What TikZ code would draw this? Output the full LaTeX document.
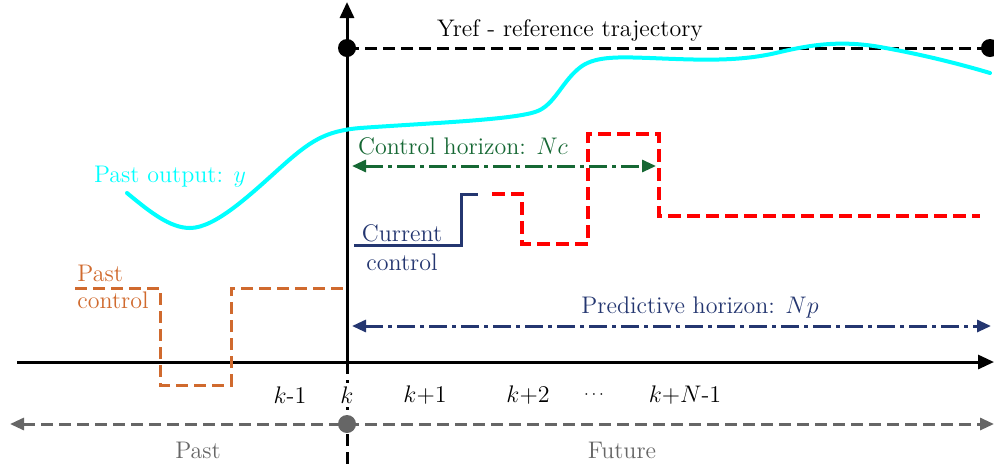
\documentclass[tikz,border=0pt]{standalone}
\usetikzlibrary{arrows.meta}
\definecolor{ctrlgreen}{RGB}{22,104,52}
\definecolor{navyc}{RGB}{36,54,112}
\definecolor{pastorange}{RGB}{208,106,46}
\definecolor{timegray}{RGB}{102,102,102}
\definecolor{outcyan}{RGB}{0,255,255}
\begin{document}
\begin{tikzpicture}[x=0.5pt,y=-0.5pt,
  axisline/.style={line width=1.5pt},
  tip/.style={-{Triangle[length=8pt,width=7pt]}},
  dtip/.style={{Triangle[length=7pt,width=6pt]}-{Triangle[length=7pt,width=6pt]}},
  dashline/.style={line width=1.5pt,dash pattern=on 6pt off 3pt},
  dashdot/.style={line width=1.5pt,dash pattern=on 9pt off 2.5pt on 2pt off 2.5pt},
  lbl/.style={inner sep=1pt,font=\large}]
\useasboundingbox (0,0) rectangle (994,468);

% coordinates
\coordinate (vtop) at (347,2);
\coordinate (vaxis) at (347,362);
\coordinate (vbot) at (347,468);
\coordinate (hleft) at (17,362);
\coordinate (hright) at (994,362);
\coordinate (refL) at (347,48);
\coordinate (refR) at (990,48);
\coordinate (ncL) at (352,166);
\coordinate (ncR) at (656,166);
\coordinate (npL) at (352,326);
\coordinate (npR) at (991,326);
\coordinate (tL) at (10,424);
\coordinate (tR) at (994,424);
\coordinate (tk) at (347,424);

% axes
\draw[axisline,tip] (vaxis) -- (vtop);
\draw[axisline,tip] (hleft) -- (hright);
\draw[line width=1.5pt,dash pattern=on 6pt off 3pt] (vaxis) -- (vbot);

% reference trajectory
\draw[dashline,black] (refL) -- (refR);
\fill (refL) circle[radius=4.5pt];
\fill (refR) circle[radius=4.5pt];
\node[lbl] (yref) at (570,30) {Yref - reference trajectory};

% output curve
\draw[outcyan,line width=2pt,line cap=round]
  (127,193) .. controls (150,212) and (170,228) .. (190,228)
  .. controls (215,228) and (250,195) .. (280,168)
  .. controls (310,141) and (325,131) .. (360,128)
  .. controls (430,123) and (510,120) .. (535,112)
  .. controls (555,106) and (562,80) .. (582,66)
  .. controls (597,56) and (620,57) .. (650,58)
  .. controls (700,60) and (740,62) .. (780,52)
  .. controls (810,45) and (840,40) .. (880,47)
  .. controls (920,54) and (960,64) .. (990,73);
\node[lbl,text=outcyan] (pout) at (170,177) {Past output: $y$};

% control horizon
\draw[dashdot,ctrlgreen,dtip] (ncL) -- (ncR);
\node[lbl,text=ctrlgreen] (nclbl) at (463,146) {Control horizon: $Nc$};

% future control (red)
\draw[red,line width=1.6pt,dash pattern=on 6.5pt off 3pt]
  (492,194) -- (522,194) -- (522,244) -- (588,244) -- (588,134)
  -- (659,134) -- (659,216) -- (980,216);

% current control
\draw[navyc,line width=1.5pt] (354,245) -- (461,245) -- (461,194) -- (478,194);
\node[lbl,text=navyc] (cur1) at (402,233) {Current};
\node[lbl,text=navyc] (cur2) at (402,262) {control};

% past control
\draw[pastorange,dashline] (75,288) -- (160,288) -- (160,385) -- (231,385)
  -- (231,288) -- (347,288);
\node[lbl,text=pastorange,anchor=west] (pc1) at (75,273) {Past};
\node[lbl,text=pastorange,anchor=west] (pc2) at (75,300) {control};

% predictive horizon
\draw[dashdot,navyc,dtip] (npL) -- (npR);
\node[lbl,text=navyc] (nplbl) at (700,307) {Predictive horizon: $Np$};

% tick labels
\node[lbl,fill=white,inner sep=2pt] (k0) at (347,395) {$k$};
\node[lbl] (km1) at (290,395) {$k$-1};
\node[lbl] (kp1) at (425,395) {$k{+}1$};
\node[lbl] (kp2) at (528,395) {$k{+}2$};
\node[lbl,font=\footnotesize] (kdots) at (594,395) {$\cdots$};
\node[lbl] (kpn) at (685,395) {$k{+}N$-1};

% past / future
\draw[timegray,dashline,dtip] (tL) -- (tR);
\fill[timegray] (tk) circle[radius=4.5pt];
\node[lbl,text=timegray] (past) at (198,450) {Past};
\node[lbl,text=timegray] (future) at (622,450) {Future};
\end{tikzpicture}
\end{document}
